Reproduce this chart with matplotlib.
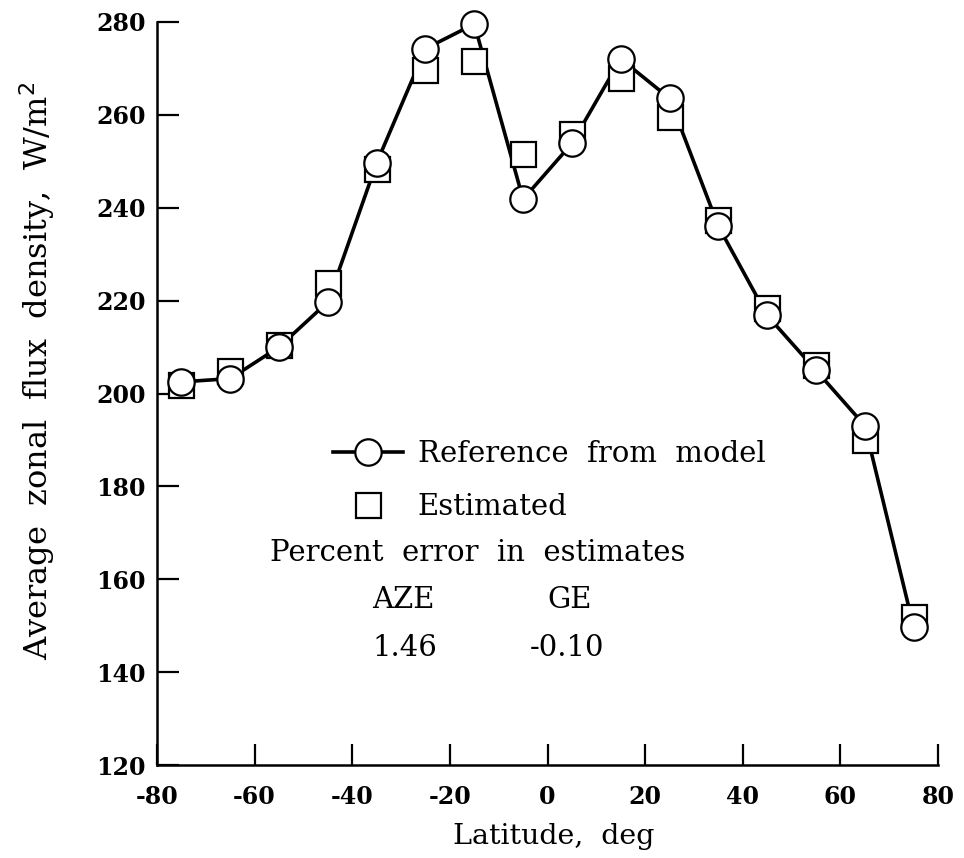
import matplotlib
matplotlib.use("Agg")
import matplotlib.pyplot as plt
from matplotlib.lines import Line2D

latitude = [-75, -65, -55, -45, -35, -25, -15, -5, 5, 15, 25, 35, 45, 55, 65, 75]
reference_model = [202.5, 203.2, 210.0, 219.7, 249.6, 274.2, 279.5, 241.8,
                   253.8, 272.0, 263.5, 236.0, 216.8, 205.0, 193.1, 149.8]
estimated = [201.8, 204.9, 210.5, 223.8, 248.3, 269.7, 271.6, 251.6,
             255.9, 267.8, 259.6, 237.3, 218.4, 206.1, 190.0, 152.0]
x_ticks = [-80, -60, -40, -20, 0, 20, 40, 60, 80]
y_ticks = [120, 140, 160, 180, 200, 220, 240, 260, 280]
legend_labels = ["Reference  from  model", "Estimated"]
error_title = "Percent  error  in  estimates"
error_names = ["AZE", "GE"]
error_values = ["1.46", "-0.10"]

plt.rcParams['font.family'] = ['DejaVu Serif']

W, H = 964, 858
fig = plt.figure(figsize=(W / 100, H / 100), dpi=100)
ax = fig.add_axes([157 / W, 1 - 765.3 / H, (938 - 157) / W, (765.3 - 21.7) / H])

ax.plot(latitude, reference_model, '-', color='black', lw=2.6, zorder=1)
ax.plot(latitude, estimated, 's', ms=18, mfc='white', mec='black', mew=1.6,
        ls='none', zorder=2)
ax.plot(latitude, reference_model, 'o', ms=19, mfc='white', mec='black', mew=1.6,
        ls='none', zorder=3)

ax.set_xlim(-80, 80)
ax.set_ylim(120, 280)
ax.set_xticks(x_ticks)
ax.set_yticks(y_ticks)
ax.set_xticklabels([str(v) for v in x_ticks], fontsize=17, fontweight='bold')
ax.set_yticklabels([str(v) for v in y_ticks], fontsize=17, fontweight='bold')
ax.tick_params(axis='x', direction='in', length=15, width=1.6, pad=14)
ax.tick_params(axis='y', direction='in', length=16, width=1.6, pad=8)
for s in ['top', 'right']:
    ax.spines[s].set_visible(False)
for s in ['left', 'bottom']:
    ax.spines[s].set_linewidth(1.8)
for ln in ax.lines:
    ln.set_clip_on(False)

ax.set_xlabel("Latitude,  deg", fontsize=20.5)
ax.xaxis.set_label_coords(0.508, -0.077)
ax.set_ylabel("Average  zonal  flux  density,  W/m$^{2}$", fontsize=23)
ax.yaxis.set_label_coords(-0.128, 0.53)

handles = [
    Line2D([], [], color='black', lw=2.6, marker='o', ms=19, mfc='white',
           mec='black', mew=1.6),
    Line2D([], [], ls='none', marker='s', ms=18, mfc='white', mec='black', mew=1.6),
]
leg = ax.legend(handles, legend_labels, loc='upper left',
                bbox_to_anchor=(333 / W, 1 - 440 / H), bbox_transform=fig.transFigure,
                frameon=False, fontsize=21, handlelength=2.4, handletextpad=0.5,
                borderpad=0, borderaxespad=0, labelspacing=0.85)

fig.text(270 / W, 1 - 561 / H, error_title, fontsize=21, va='baseline', ha='left')
fig.text(372 / W, 1 - 608 / H, error_names[0], fontsize=21, va='baseline', ha='left')
fig.text(547 / W, 1 - 608 / H, error_names[1], fontsize=21, va='baseline', ha='left')
fig.text(372 / W, 1 - 656 / H, error_values[0], fontsize=21, va='baseline', ha='left')
fig.text(530 / W, 1 - 656 / H, error_values[1], fontsize=21, va='baseline', ha='left')

fig.savefig("out.png", dpi=100)
